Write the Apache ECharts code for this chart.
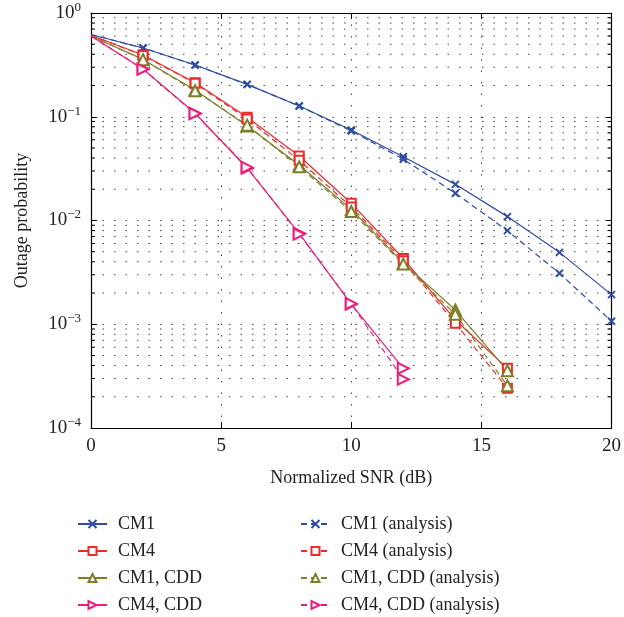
<!DOCTYPE html>
<html>
<head>
<meta charset="utf-8">
<script src="https://cdn.jsdelivr.net/npm/echarts@6/dist/echarts.min.js"></script>
<style>
  html, body { margin: 0; padding: 0; background: #fff; }
  #main { width: 624px; height: 617px; }
</style>
</head>
<body>
<div id="main"></div>
<script>
// SNR points (dB)
var snr = [0, 2, 4, 6, 8, 10, 12, 14, 16, 18, 20];

// outage probability
var cm1      = [0.62, 0.46, 0.315, 0.205, 0.127, 0.0745, 0.0412, 0.0223, 0.0109, 0.00493, 0.00193];
var cm1Ana   = [0.62, 0.46, 0.315, 0.205, 0.127, 0.073, 0.039, 0.0183, 0.00798, 0.0031, 0.00107];
var cm4      = [0.61, 0.394, 0.213, 0.0988, 0.0419, 0.01465, 0.0043, 0.0011, 0.000376];
var cm4Ana   = [0.61, 0.39, 0.21, 0.095, 0.038, 0.0135, 0.0041, 0.00102, 0.000241];
var cm1Cdd   = [0.60, 0.357, 0.181, 0.0814, 0.0343, 0.0128, 0.0039, 0.00137, 0.000357];
var cm1CddAna= [0.60, 0.355, 0.178, 0.083, 0.033, 0.0122, 0.0038, 0.00125, 0.000256];
var cm4Cdd   = [0.60, 0.289, 0.108, 0.0319, 0.00753, 0.00156, 0.000376];
var cm4CddAna= [0.60, 0.287, 0.107, 0.0325, 0.0074, 0.00158, 0.000295];

// minor grid lines of the log axis
var minorTicks = [];
[0.0001, 0.001, 0.01, 0.1].forEach(function (d) {
    [2, 3, 4, 5, 6, 7, 8, 9].forEach(function (m) { minorTicks.push([0, +(d * m).toPrecision(3)]); });
});

var BLUE = '#2f4ea3', RED = '#ec2b2b', OLIVE = '#7f7e27', PINK = '#ea1f7c';
var FONT = 'Liberation Serif';
var CROSS = 'emptyPath://M0,0L10,10M10,0L0,10';

function pts(vals) {
    return vals.map(function (v, i) {
        var d = {value: [snr[i], v]};
        if (i === 0) d.symbol = 'none';
        return d;
    });
}

function mk(name, vals, color, symbol, size, dashed, rot) {
    return {
        name: name,
        type: 'line',
        data: pts(vals),
        symbol: symbol,
        symbolSize: size,
        symbolRotate: rot || 0,
        showAllSymbol: true,
        lineStyle: {color: color, width: 1.2, type: dashed ? [6, 4] : 'solid'},
        itemStyle: {color: color, borderColor: color, borderWidth: 1.2},
        z: 5
    };
}

function expLabel(v) {
    var e = Math.round(Math.log(v) / Math.LN10);
    var s = e < 0 ? '\u2212' + (-e) : '' + e;
    return '{b|10}{e|' + s + '}';
}

function legendCol(names, left) {
    return {
        data: names,
        orient: 'vertical', left: left, top: 515, bottom: 0, padding: 0,
        itemWidth: 29, itemHeight: 10, itemGap: 9,
        textStyle: {fontFamily: FONT, fontSize: 18, color: '#222', lineHeight: 18, padding: [0, 0, 0, 6]}
    };
}

var option = {
    backgroundColor: '#fff',
    animation: false,
    textStyle: {fontFamily: FONT},
    grid: {left: 91, right: 7, top: 13, height: 415},
    legend: [
        legendCol(['CM1', 'CM4', 'CM1, CDD', 'CM4, CDD'], 77),
        legendCol(['CM1 (analysis)', 'CM4 (analysis)', 'CM1, CDD (analysis)', 'CM4, CDD (analysis)'], 300)
    ],
    xAxis: [
        {
            type: 'value', min: 0, max: 20, interval: 5,
            name: 'Normalized SNR (dB)', nameLocation: 'middle', nameGap: 41,
            nameTextStyle: {fontFamily: FONT, fontSize: 18, color: '#222'},
            axisLine: {lineStyle: {color: '#000', width: 1.2}},
            axisTick: {inside: true, length: 6, lineStyle: {color: '#000'}},
            axisLabel: {fontFamily: FONT, fontSize: 19, color: '#222', margin: 9},
            splitLine: {show: true, lineStyle: {color: '#444', type: [1.5, 10]}}
        },
        {
            type: 'value', min: 0, max: 20, interval: 5, position: 'top',
            axisLine: {show: true, onZero: false, lineStyle: {color: '#000', width: 1.2}},
            axisTick: {inside: true, length: 6, lineStyle: {color: '#000'}},
            axisLabel: {show: false},
            splitLine: {show: false}
        }
    ],
    yAxis: [
        {
            type: 'log', logBase: 10, min: 0.0001, max: 1, splitNumber: 4,
            name: 'Outage probability', nameLocation: 'middle', nameGap: 60,
            nameTextStyle: {fontFamily: FONT, fontSize: 18, color: '#222'},
            axisLine: {show: true, lineStyle: {color: '#000', width: 1.2}},
            axisTick: {inside: true, length: 6, lineStyle: {color: '#000'}},
            axisLabel: {
                margin: 10,
                formatter: expLabel,
                rich: {
                    b: {fontFamily: FONT, fontSize: 19, color: '#222', lineHeight: 24},
                    e: {fontFamily: FONT, fontSize: 13, color: '#222', verticalAlign: 'top', lineHeight: 14}
                }
            },
            splitLine: {show: true, lineStyle: {color: '#444', type: [1.5, 10]}}
        },
        {
            type: 'log', logBase: 10, min: 0.0001, max: 1, splitNumber: 4, position: 'right',
            axisLine: {show: true, onZero: false, lineStyle: {color: '#000', width: 1.2}},
            axisTick: {inside: true, length: 6, lineStyle: {color: '#000'}},
            axisLabel: {show: false},
            splitLine: {show: false}
        }
    ],
    series: [
        {
            type: 'custom',
            silent: true,
            z: 1,
            data: minorTicks,
            renderItem: function (params, api) {
                var v = api.value(1);
                var a = api.coord([0, v]);
                var b = api.coord([20, v]);
                return {
                    type: 'group',
                    children: [
                        {type: 'line', shape: {x1: a[0], y1: a[1], x2: b[0], y2: b[1]},
                         style: {stroke: '#444', lineWidth: 1, lineDash: [1.5, 10]}},
                        {type: 'line', shape: {x1: a[0], y1: a[1], x2: a[0] + 4, y2: a[1]},
                         style: {stroke: '#000', lineWidth: 1}},
                        {type: 'line', shape: {x1: b[0] - 4, y1: b[1], x2: b[0], y2: b[1]},
                         style: {stroke: '#000', lineWidth: 1}}
                    ]
                };
            }
        },
        mk('CM1', cm1, BLUE, CROSS, 7, false),
        mk('CM4', cm4, RED, 'emptyRect', 9, false),
        mk('CM1, CDD', cm1Cdd, OLIVE, 'emptyTriangle', 11, false),
        mk('CM4, CDD', cm4Cdd, PINK, 'emptyTriangle', 11, false, -90),
        mk('CM1 (analysis)', cm1Ana, BLUE, CROSS, 7, true),
        mk('CM4 (analysis)', cm4Ana, RED, 'emptyRect', 9, true),
        mk('CM1, CDD (analysis)', cm1CddAna, OLIVE, 'emptyTriangle', 11, true),
        mk('CM4, CDD (analysis)', cm4CddAna, PINK, 'emptyTriangle', 11, true, -90)
    ]
};

var chart = echarts.init(document.getElementById('main'), null, {renderer: 'canvas'});
chart.setOption(option);
</script>
</body>
</html>
